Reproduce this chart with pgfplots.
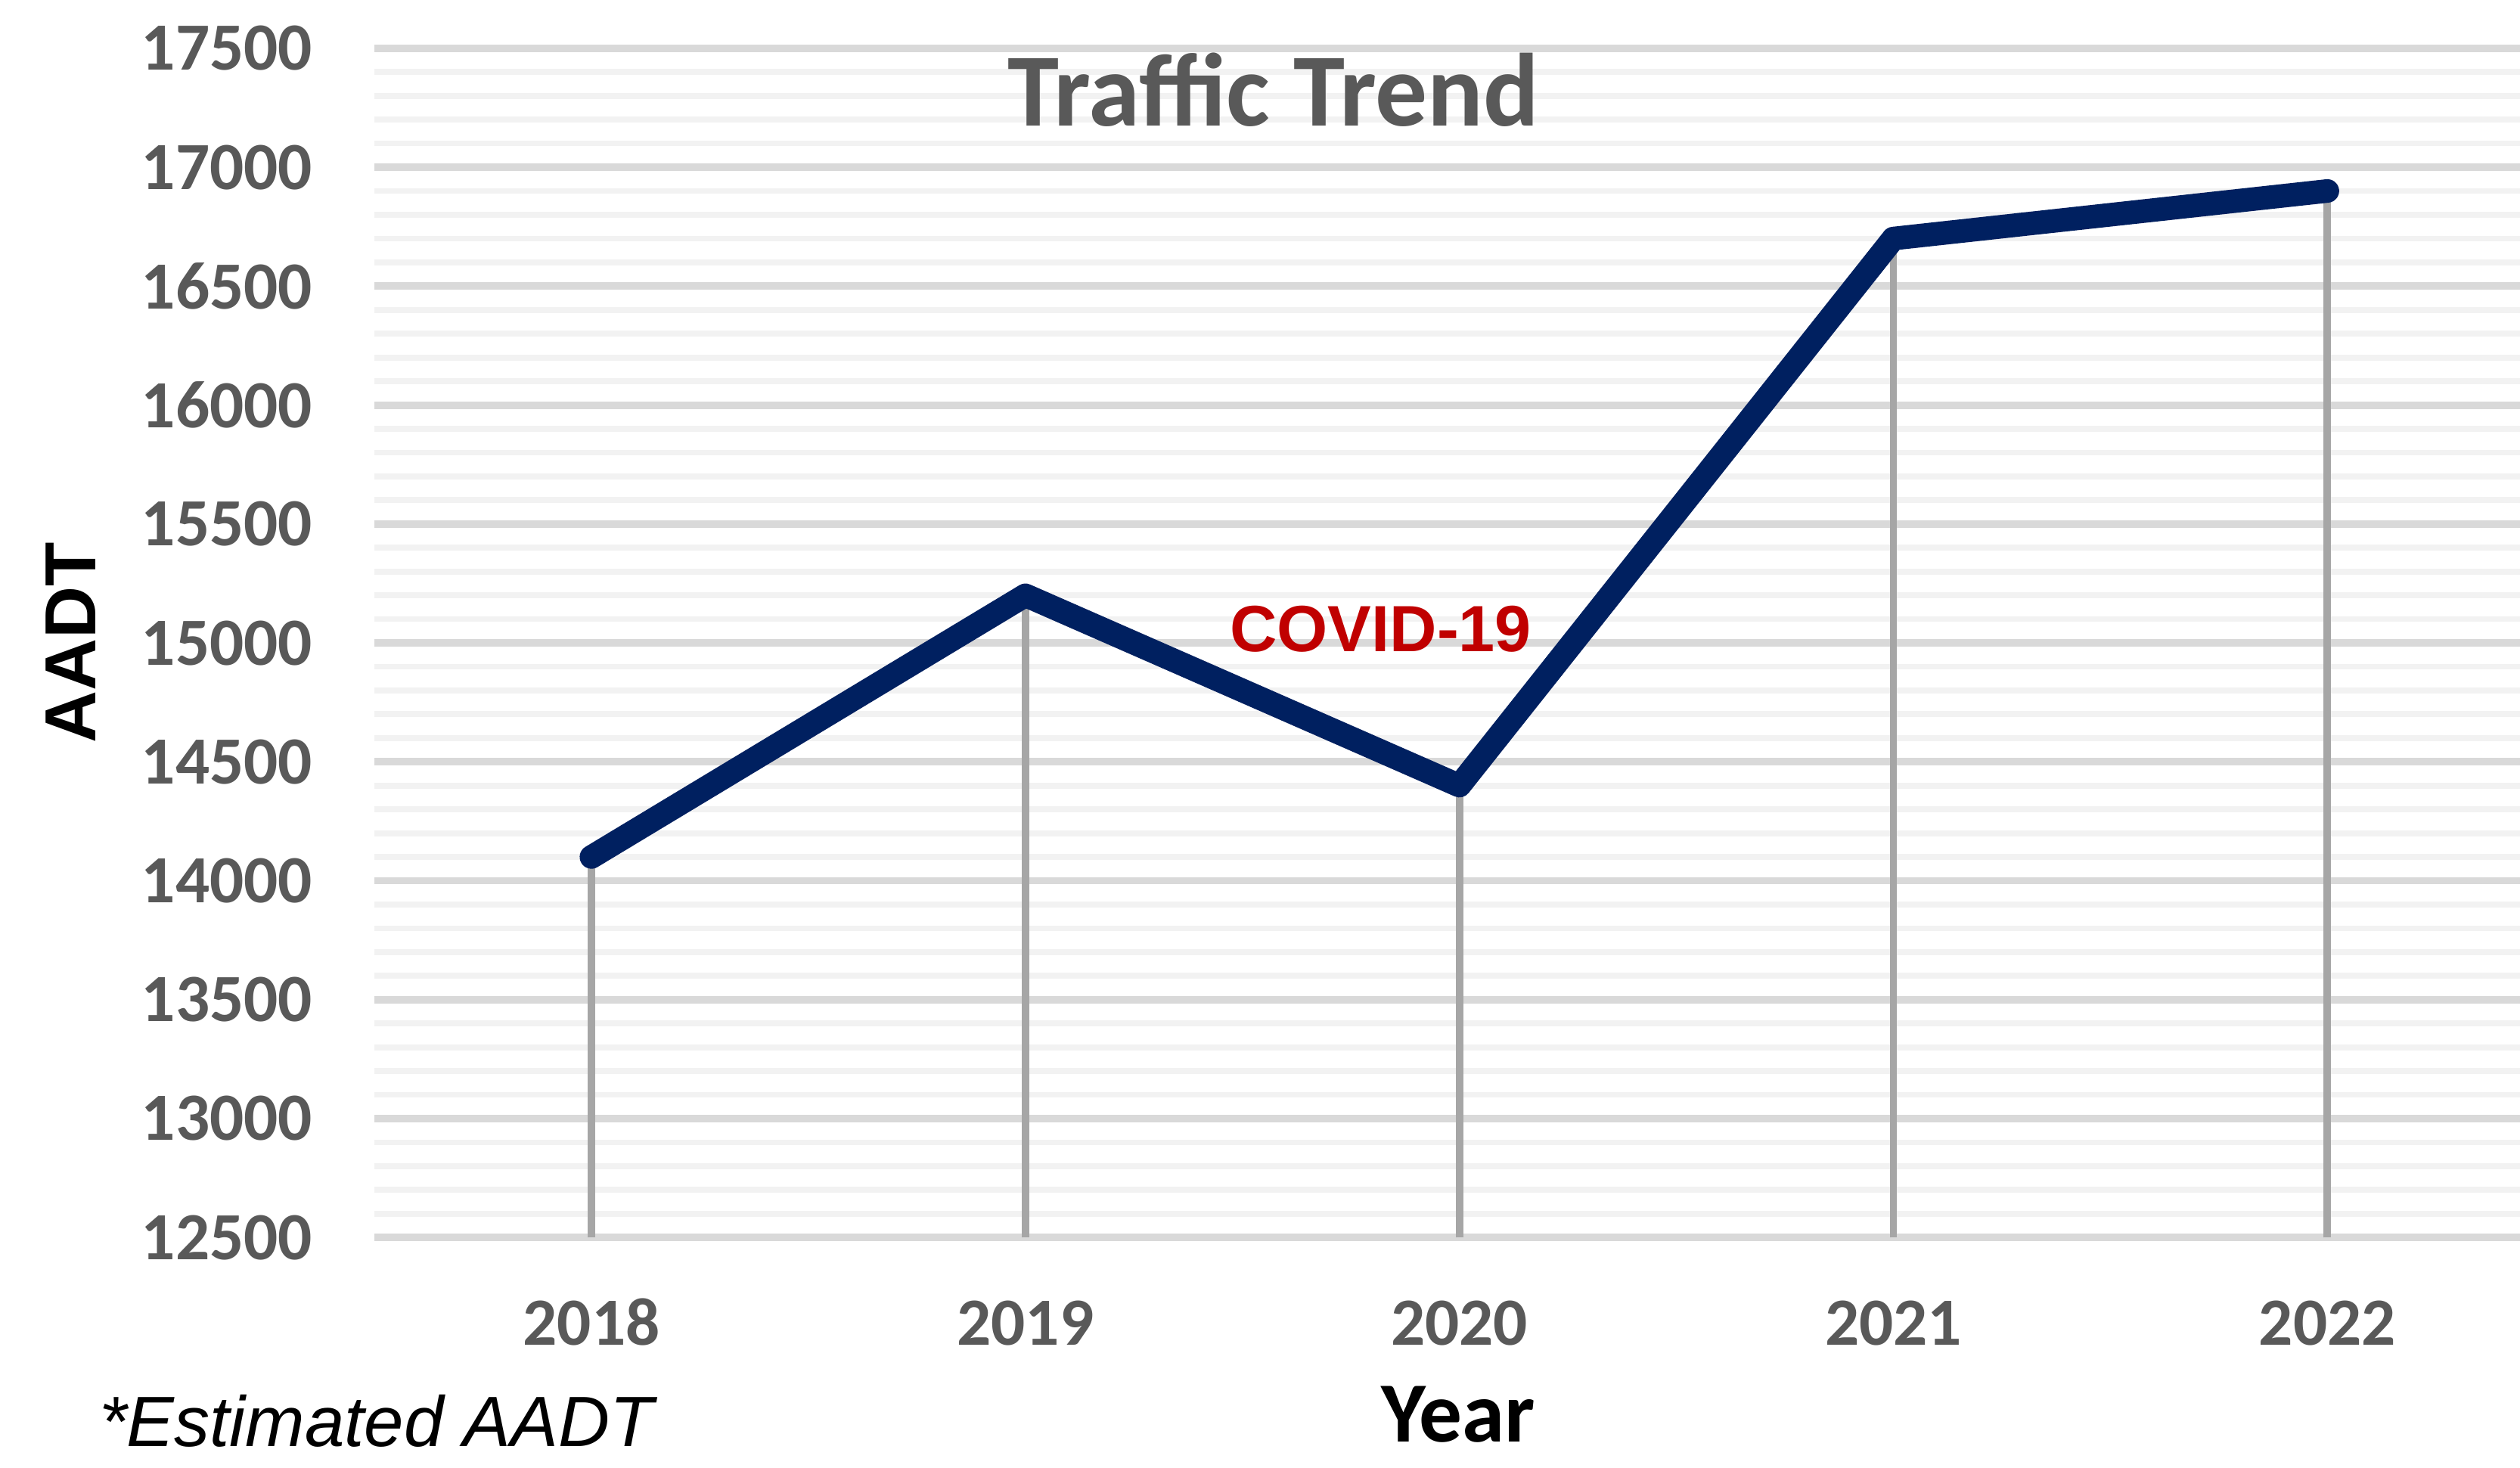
\documentclass[border=0pt]{standalone}
\usepackage{fontspec}
\usepackage{pgfplots}
\pgfplotsset{compat=1.18}
\newfontfamily\carlito{Carlito}
\newfontfamily\arialf{Liberation Sans}
\definecolor{tickgray}{HTML}{595959}
\definecolor{majgrid}{HTML}{D9D9D9}
\definecolor{mingrid}{HTML}{F2F2F2}
\definecolor{dropgray}{HTML}{A6A6A6}
\definecolor{navy}{HTML}{002060}
\definecolor{covidred}{HTML}{C00000}
\begin{document}
\begin{tikzpicture}
\useasboundingbox (0,0) rectangle (470.4pt,273.9pt);
\begin{axis}[
  at={(69.9pt,42.9pt)}, anchor=south west,
  scale only axis, width=400.5pt, height=222pt,
  xmin=-0.5, xmax=4.444, ymin=12500, ymax=17500,
  clip mode=individual,
  axis line style={draw=none},
  major tick length=0pt, minor tick length=0pt,
  tick style={draw=none},
  xtick={0,1,2,3,4},
  xticklabels={2018,2019,2020,2021,2022},
  ytick={12500,13000,...,17500},
  minor y tick num=4,
  scaled y ticks=false,
  ymajorgrids, yminorgrids,
  major grid style={color=majgrid, line width=1.4pt},
  minor grid style={color=mingrid, line width=1.1pt},
  /pgf/number format/assume math mode=true,
  /pgf/number format/set thousands separator={},
  ticklabel style={font=\carlito\bfseries\fontsize{12.6}{14}\selectfont, text=tickgray},
  xticklabel style={anchor=base, yshift=-20.1pt},
  yticklabel style={anchor=east, inner sep=0pt, xshift=-11.4pt},
]
\addplot[ycomb, color=dropgray, line width=1.4pt, mark=none] coordinates {
  (0,14100) (1,15200) (2,14400) (3,16700) (4,16900)
};
\addplot[color=navy, line width=4.4pt, line join=round, line cap=round, mark=none] coordinates {
  (0,14100) (1,15200) (2,14400) (3,16700) (4,16900)
};
\node[anchor=base, text=tickgray, font=\carlito\bfseries\fontsize{19.4}{22}\selectfont]
  at (rel axis cs:0.419,0.935) {Traffic Trend};
\node[anchor=base, text=covidred, font=\arialf\bfseries\fontsize{12.2}{14}\selectfont]
  at (rel axis cs:0.469,0.493) {COVID-19};
\node[anchor=center, rotate=90, inner sep=0pt, text=black, font=\arialf\bfseries\fontsize{13.5}{15}\selectfont]
  at (rel axis cs:-0.1416,0.5) {AADT};
\node[anchor=base, inner sep=0pt, text=black, font=\carlito\bfseries\fontsize{16}{18}\selectfont]
  at (rel axis cs:0.505,-0.172) {Year};
\node[anchor=base west, inner sep=0pt, text=black, font=\arialf\itshape\fontsize{13.3}{15}\selectfont]
  at (rel axis cs:-0.1288,-0.1757) {*Estimated AADT};
\end{axis}
\end{tikzpicture}
\end{document}
